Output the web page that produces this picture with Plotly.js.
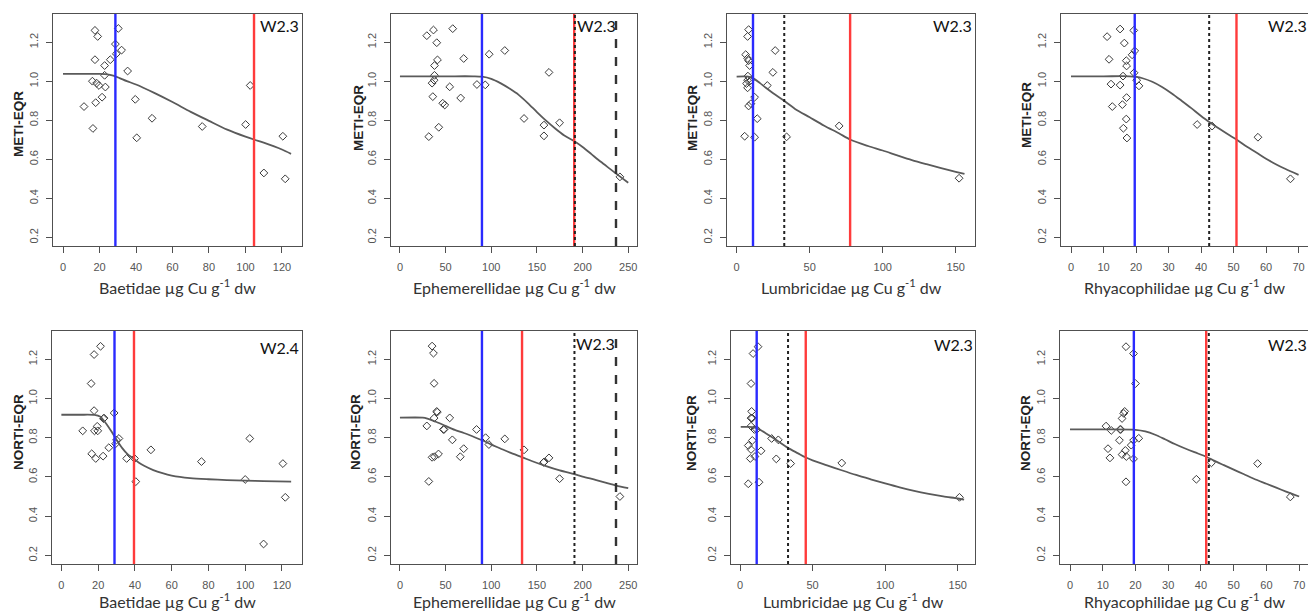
<!DOCTYPE html>
<html><head><meta charset="utf-8">
<script src="https://cdn.plot.ly/plotly-3.0.1.min.js"></script>
<style>html,body{margin:0;padding:0;background:#fff}#chart{width:1308px;height:613px}</style>
</head><body><div id="chart"></div>
<script>
// ---------- DATA ----------
const taxa = ['Baetidae','Ephemerellidae','Lumbricidae','Rhyacophilidae','Baetidae','Ephemerellidae','Lumbricidae','Rhyacophilidae'];
const indexNames = ['METI-EQR','METI-EQR','METI-EQR','METI-EQR','NORTI-EQR','NORTI-EQR','NORTI-EQR','NORTI-EQR'];
const wLabels = ['W2.3','W2.3','W2.3','W2.3','W2.4','W2.3','W2.3','W2.3'];
const xDticks = [20,50,50,10,20,50,50,10];

// Panel 1: Baetidae vs METI
const baetidaeMetiX = [17.5,19.0,30.3,28.7,29.2,32.1,17.5,25.9,22.8,35.4,16.1,18.4,19.7,22.8,23.2,21.4,11.5,17.9,39.6,48.8,16.4,40.4,76.3,100.1,102.6,120.5,110.1,121.8];
const baetidaeMetiY = [1.26,1.229,1.27,1.19,1.14,1.159,1.11,1.11,1.08,1.052,1.0,0.99,0.978,1.03,0.97,0.918,0.87,0.89,0.907,0.81,0.758,0.71,0.768,0.778,0.978,0.718,0.53,0.50];
const baetidaeMetiFitX = [0,10,20,25,28,31,35,40,50,60,70,80,90,100,105,110,120,125];
const baetidaeMetiFitY = [1.037,1.037,1.037,1.034,1.027,1.016,1.0,0.983,0.94,0.893,0.843,0.797,0.752,0.716,0.70,0.685,0.650,0.628];

// Panel 2: Ephemerellidae vs METI
const ephemMetiX = [29.4,36.7,57.8,40.3,41.1,37.8,37.8,37.4,35.2,69.8,97.7,114.8,84.3,93.4,54.5,36.0,66.5,46.9,49.1,31.6,42.5,163.2,135.9,157.7,157.7,174.8,240.9];
const ephemMetiY = [1.233,1.262,1.269,1.197,1.109,1.08,1.03,1.005,0.99,1.116,1.138,1.157,0.983,0.981,0.971,0.921,0.914,0.887,0.878,0.716,0.764,1.045,0.809,0.775,0.72,0.787,0.51];
const ephemMetiFitX = [0,50,80,90,100,110,120,130,140,150,160,170,180,191,200,210,220,230,240,250];
const ephemMetiFitY = [1.025,1.025,1.025,1.023,1.012,0.99,0.962,0.93,0.888,0.842,0.798,0.758,0.722,0.692,0.663,0.625,0.587,0.551,0.515,0.48];

// Panel 3: Lumbricidae vs METI
const lumbMetiX = [8.2,7.5,6.2,7.5,8.2,8.9,7.7,7.5,6.8,7.5,9.3,12.3,8.2,9.8,14.1,5.5,12.3,26.4,24.8,21.0,34.2,70.2,152.3];
const lumbMetiY = [1.264,1.229,1.136,1.117,1.105,1.08,1.026,1.005,0.988,0.966,1.002,0.918,0.873,0.885,0.808,0.718,0.713,1.157,1.045,0.978,0.715,0.771,0.503];
const lumbMetiFitX = [0,8,12,16,20,25,32,40,50,60,70,78,90,100,110,120,130,140,150,156];
const lumbMetiFitY = [1.023,1.023,1.012,0.99,0.966,0.938,0.902,0.858,0.815,0.772,0.733,0.70,0.668,0.645,0.62,0.596,0.575,0.555,0.536,0.525];

// Panel 4: Rhyacophilidae vs METI
const rhyaMetiX = [15.1,19.3,11.1,16.4,19.6,18.8,11.7,17.0,17.1,19.4,16.0,12.3,15.1,20.9,20.2,17.1,12.7,15.8,17.0,16.1,17.2,38.8,43.4,57.5,67.5];
const rhyaMetiY = [1.267,1.26,1.228,1.195,1.155,1.135,1.112,1.105,1.078,1.043,1.026,0.985,0.98,0.976,1.005,0.916,0.87,0.88,0.806,0.759,0.709,0.778,0.77,0.713,0.50];
const rhyaMetiFitX = [0,10,18,20,22,25,28,31,34,37,40,43,46,49,51,54,57,60,63,66,70];
const rhyaMetiFitY = [1.025,1.025,1.025,1.022,1.015,0.997,0.97,0.937,0.9,0.862,0.822,0.786,0.752,0.72,0.70,0.665,0.635,0.603,0.575,0.55,0.52];

// Panel 5: Baetidae vs NORTI
const baetidaeNortiX = [21.3,17.8,16.2,17.8,22.9,23.2,28.7,19.5,19.8,18.0,11.6,31.3,30.0,29.5,25.8,16.5,22.7,18.7,35.5,39.8,48.7,40.5,76.2,100.0,102.5,120.5,121.8,110.0];
const baetidaeNortiY = [1.266,1.224,1.076,0.938,0.897,0.9,0.926,0.858,0.835,0.835,0.835,0.796,0.788,0.769,0.749,0.718,0.706,0.694,0.694,0.694,0.738,0.576,0.678,0.587,0.796,0.668,0.496,0.258];
const baetidaeNortiFitX = [0,10,18,21,24,27,30,33,36,39,42,45,50,55,60,70,80,90,100,110,125];
const baetidaeNortiFitY = [0.917,0.917,0.916,0.908,0.876,0.835,0.79,0.748,0.716,0.695,0.674,0.657,0.635,0.619,0.607,0.594,0.588,0.584,0.581,0.579,0.576];

// Panel 6: Ephemerellidae vs NORTI
const ephemNortiX = [35.2,36.7,37.4,37.4,40.3,40.8,29.4,54.5,47.6,48.3,83.9,93.8,97.4,114.8,57.4,69.8,35.2,37.8,42.2,66.1,135.9,157.3,157.8,163.2,174.8,31.6,240.9];
const ephemNortiY = [1.267,1.231,1.077,0.90,0.934,0.93,0.86,0.901,0.842,0.842,0.842,0.80,0.765,0.794,0.789,0.744,0.70,0.703,0.717,0.703,0.738,0.674,0.676,0.697,0.591,0.577,0.50];
const ephemNortiFitX = [0,25,30,40,50,60,70,80,90,100,110,120,134,145,160,175,191,200,215,230,237,250];
const ephemNortiFitY = [0.902,0.902,0.897,0.88,0.86,0.84,0.824,0.806,0.787,0.765,0.745,0.725,0.70,0.68,0.655,0.633,0.614,0.602,0.584,0.565,0.556,0.543];

// Panel 7: Lumbricidae vs NORTI
const lumbNortiX = [12.4,9.0,7.6,8.0,7.6,8.4,7.6,9.9,11.5,8.5,5.7,7.6,7.1,10.3,14.5,21.8,26.4,25.0,34.9,70.1,5.7,13.1,151.2];
const lumbNortiY = [1.264,1.229,1.076,0.934,0.90,0.90,0.859,0.842,0.842,0.786,0.76,0.74,0.694,0.704,0.733,0.796,0.789,0.692,0.668,0.671,0.565,0.573,0.496];
const lumbNortiFitX = [0.5,5,10,15,20,25,33,40,45,50,60,70,80,90,100,110,120,130,140,150,154.4];
const lumbNortiFitY = [0.855,0.855,0.852,0.835,0.812,0.788,0.748,0.72,0.70,0.684,0.659,0.634,0.61,0.588,0.567,0.547,0.529,0.514,0.501,0.49,0.484];

// Panel 8: Rhyacophilidae vs NORTI
const rhyaNortiX = [17.1,19.4,20.0,16.7,16.4,15.9,11.0,12.6,15.3,15.5,15.1,19.4,21.0,18.7,11.6,16.9,15.9,17.2,12.2,19.4,17.1,38.6,43.2,57.3,67.3];
const rhyaNortiY = [1.264,1.229,1.076,0.934,0.924,0.898,0.859,0.837,0.842,0.842,0.787,0.787,0.797,0.762,0.744,0.735,0.714,0.704,0.697,0.692,0.575,0.588,0.672,0.668,0.498];
const rhyaNortiFitX = [0,10,20,23,26,29,32,35,38,41.6,44,47,50,53,56,60,63,66,70];
const rhyaNortiFitY = [0.842,0.842,0.84,0.832,0.815,0.792,0.768,0.746,0.726,0.703,0.683,0.66,0.637,0.615,0.592,0.565,0.545,0.525,0.50];

// Threshold lines (µg Cu g-1 dw); null = not drawn
const blueLines   = [28.7, 89.8, 11.2, 19.6, 28.9, 89.8, 11.5, 19.5];
const redLines    = [104.7, 190.8, 77.7, 50.9, 39.5, 133.7, 45.3, 41.6];
const dottedLines = [null, 191.6, 32.6, 42.5, null, 191.1, 33.1, 42.4];
const dashedLines = [null, 236.6, null, null, null, 236.6, null, null];

const pointsX = [baetidaeMetiX, ephemMetiX, lumbMetiX, rhyaMetiX, baetidaeNortiX, ephemNortiX, lumbNortiX, rhyaNortiX];
const pointsY = [baetidaeMetiY, ephemMetiY, lumbMetiY, rhyaMetiY, baetidaeNortiY, ephemNortiY, lumbNortiY, rhyaNortiY];
const fitX = [baetidaeMetiFitX, ephemMetiFitX, lumbMetiFitX, rhyaMetiFitX, baetidaeNortiFitX, ephemNortiFitX, lumbNortiFitX, rhyaNortiFitX];
const fitY = [baetidaeMetiFitY, ephemMetiFitY, lumbMetiFitY, rhyaMetiFitY, baetidaeNortiFitY, ephemNortiFitY, lumbNortiFitY, rhyaNortiFitY];

// ---------- LAYOUT GEOMETRY (pixels) ----------
const W = 1308, H = 613;
const boxes = [
  {l:53, r:302, t:14, b:246, xr:[-5.5,131]},
  {l:391, r:637, t:14, b:246, xr:[-9.8,259.6]},
  {l:727, r:975, t:14, b:246, xr:[-6.6,163.2]},
  {l:1061, r:1308, t:14, b:246, xr:[-3.08,72.9]},
  {l:52, r:302, t:331, b:564, xr:[-5.1,130.9]},
  {l:391, r:637, t:331, b:564, xr:[-9.8,259.6]},
  {l:731, r:975, t:331, b:564, xr:[-6.2,161.9]},
  {l:1060, r:1308, t:331, b:564, xr:[-3.06,72.7]}
];
const yTitlePos = [[18,124],[358,118],[692,118],[1027,115],[18,432],[355,432],[691,433],[1025,433]];
const xTitleY = [286,286,286,286,600,600,600,600];
const wPos = [[279,25.5],[596,25.5],[952,25.5],[1287,25.5],[279,347],[595,343],[953,344],[1287,344]];

const axisCol = '#505050';
const tickFont = {family:'Liberation Sans, Arial, sans-serif', size:11, color:'#555'};
const labelFont = 'Lato, Carlito, Calibri, sans-serif';

const traces = [];
const layout = {
  width: W, height: H, margin:{l:0,r:0,t:0,b:0},
  paper_bgcolor:'#fff', plot_bgcolor:'#fff', showlegend:false,
  shapes: [], annotations: []
};

for (let i = 0; i < 8; i++) {
  const n = i + 1;
  const xa = n === 1 ? 'x' : 'x' + n;
  const ya = n === 1 ? 'y' : 'y' + n;
  const xk = n === 1 ? 'xaxis' : 'xaxis' + n;
  const yk = n === 1 ? 'yaxis' : 'yaxis' + n;
  const b = boxes[i];
  layout[xk] = {
    domain:[b.l/W, b.r/W], range:b.xr, anchor:ya,
    tick0:0, dtick:xDticks[i], ticks:'outside', ticklen:6, tickwidth:1, tickcolor:axisCol,
    ticklabelstandoff:5,
    showline:true, mirror:true, linecolor:axisCol, linewidth:1,
    showgrid:false, zeroline:false, tickfont:tickFont
  };
  layout[yk] = {
    domain:[1-b.b/H, 1-b.t/H], range:[0.156,1.344], anchor:xa,
    tickvals:[0.2,0.4,0.6,0.8,1.0,1.2], ticktext:['0.2','0.4','0.6','0.8','1.0','1.2'],
    tickangle:-90, ticks:'outside', ticklen:6, tickwidth:1, tickcolor:axisCol,
    ticklabelstandoff:4,
    showline:true, mirror:true, linecolor:axisCol, linewidth:1,
    showgrid:false, zeroline:false, tickfont:tickFont
  };
  traces.push({
    type:'scatter', mode:'markers', x:pointsX[i], y:pointsY[i], xaxis:xa, yaxis:ya,
    marker:{symbol:'diamond-open', size:6, color:'#3a3a3a', line:{width:1, color:'#3a3a3a'}},
    hoverinfo:'x+y'
  });
  traces.push({
    type:'scatter', mode:'lines', x:fitX[i], y:fitY[i], xaxis:xa, yaxis:ya,
    line:{color:'#5a5a5a', width:1.8, shape:'spline', smoothing:0.8}, hoverinfo:'skip'
  });
  const vline = (xv, color, width, dash) => {
    if (xv === null) return;
    layout.shapes.push({type:'line', xref:xa, yref:ya + ' domain', x0:xv, x1:xv, y0:0, y1:1,
      line:{color:color, width:width, dash:dash}});
  };
  vline(blueLines[i], '#2a2aff', 2.4, 'solid');
  vline(redLines[i], '#ff3b3b', 2.4, 'solid');
  vline(dottedLines[i], '#222', 2, 'dot');
  vline(dashedLines[i], '#333', 2.4, 'dash');

  layout.annotations.push({
    xref:'paper', yref:'paper', x:(b.l+b.r)/2/W, y:1-xTitleY[i]/H, xanchor:'center', yanchor:'middle',
    text: taxa[i] + ' µg Cu g<sup>-1</sup> dw', showarrow:false,
    font:{family:labelFont, size:16, color:'#333'}
  });
  layout.annotations.push({
    xref:'paper', yref:'paper', x:yTitlePos[i][0]/W, y:1-yTitlePos[i][1]/H, xanchor:'center', yanchor:'middle',
    text:'<b>' + indexNames[i] + '</b>', textangle:-90, showarrow:false,
    font:{family:'Liberation Sans, Arial, sans-serif', size:13.5, color:'#222'}
  });
  layout.annotations.push({
    xref:'paper', yref:'paper', x:wPos[i][0]/W, y:1-wPos[i][1]/H, xanchor:'center', yanchor:'middle',
    text:wLabels[i], showarrow:false,
    font:{family:labelFont, size:16, color:'#111'}
  });
}

Plotly.newPlot('chart', traces, layout, {displayModeBar:false, staticPlot:true});
</script></body></html>
